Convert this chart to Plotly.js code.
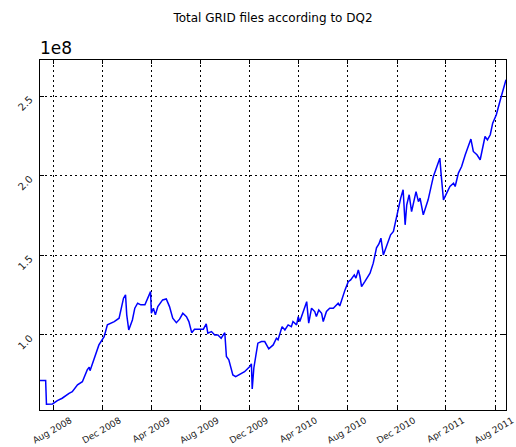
<!DOCTYPE html>
<html>
<head>
<meta charset="utf-8">
<script src="https://cdn.plot.ly/plotly-3.0.1.min.js"></script>
<style>html,body{margin:0;padding:0;background:#fff;}#chart{width:516px;height:447px;}</style>
</head>
<body>
<div id="chart"></div>
<script>
// Dates of samples
const dates = [
"2008-06-29","2008-07-13","2008-07-15","2008-07-30","2008-08-11","2008-08-23","2008-09-09","2008-09-17","2008-09-30","2008-10-12",
"2008-10-24","2008-10-29","2008-10-31","2008-11-10","2008-11-22","2008-12-05","2008-12-13","2008-12-30","2009-01-11","2009-01-22",
"2009-01-27","2009-01-30","2009-02-04","2009-02-13","2009-02-19","2009-02-26","2009-03-06","2009-03-16","2009-03-23","2009-03-30",
"2009-04-01","2009-04-06","2009-04-11","2009-04-17","2009-04-29","2009-05-08","2009-05-16","2009-05-24","2009-06-02","2009-06-10",
"2009-06-18","2009-06-27","2009-07-03","2009-07-10","2009-07-17","2009-07-30","2009-08-08","2009-08-15","2009-08-19","2009-08-28",
"2009-09-05","2009-09-13","2009-09-21","2009-09-30","2009-10-04","2009-10-10","2009-10-20","2009-10-27","2009-11-06","2009-11-18",
"2009-12-01","2009-12-05","2009-12-07","2009-12-11","2009-12-21","2009-12-30","2010-01-07","2010-01-17","2010-01-28","2010-02-05",
"2010-02-09","2010-02-19","2010-02-26","2010-03-06","2010-03-14","2010-03-18","2010-03-27","2010-03-31","2010-04-04","2010-04-12",
"2010-04-21","2010-04-26","2010-05-03","2010-05-11","2010-05-15","2010-05-21","2010-05-28","2010-06-01","2010-06-09","2010-06-17",
"2010-06-26","2010-07-08","2010-07-12","2010-07-25","2010-08-02","2010-08-08","2010-08-17","2010-08-21","2010-08-27","2010-08-31",
"2010-09-04","2010-09-12","2010-09-25","2010-10-03","2010-10-11","2010-10-17","2010-10-22","2010-10-28","2010-11-05","2010-11-15",
"2010-11-22","2010-11-28","2010-12-04","2010-12-10","2010-12-16","2010-12-21","2010-12-25","2010-12-31","2011-01-06","2011-01-12",
"2011-01-17","2011-01-23","2011-01-27","2011-02-04","2011-02-16","2011-03-01","2011-03-09","2011-03-17","2011-03-20","2011-03-26",
"2011-04-03","2011-04-11","2011-04-20","2011-04-24","2011-05-02","2011-05-10","2011-05-19","2011-05-27","2011-06-02","2011-06-08",
"2011-06-17","2011-06-25","2011-07-01","2011-07-07","2011-07-13","2011-07-20","2011-07-26","2011-08-04","2011-08-14","2011-08-20",
"2011-08-28"
];
// Total files (x 1e8)
const filesE8 = [
0.713,0.713,0.564,0.566,0.587,0.602,0.633,0.643,0.686,0.706,
0.780,0.797,0.775,0.843,0.937,0.989,1.063,1.084,1.105,1.231,
1.252,1.126,1.031,1.094,1.168,1.199,1.189,1.189,1.231,1.272,
1.136,1.168,1.126,1.178,1.220,1.226,1.178,1.105,1.077,1.099,
1.136,1.115,1.084,1.014,1.036,1.036,1.036,1.069,1.011,1.021,
1.000,1.000,0.979,1.014,0.864,0.843,0.748,0.738,0.753,0.769,
0.802,0.818,0.660,0.792,0.948,0.958,0.958,0.912,0.937,0.979,
0.969,1.052,1.031,1.063,1.052,1.084,1.063,1.115,1.084,1.147,
1.209,1.074,1.168,1.147,1.115,1.157,1.136,1.084,1.147,1.168,
1.168,1.199,1.182,1.283,1.335,1.346,1.377,1.357,1.409,1.367,
1.304,1.335,1.388,1.451,1.547,1.572,1.608,1.503,1.555,1.629,
1.650,1.723,1.786,1.860,1.912,1.692,1.818,1.881,1.775,1.838,
1.901,1.838,1.860,1.755,1.849,1.996,2.048,2.111,2.017,1.849,
1.891,1.933,1.954,1.933,2.017,2.058,2.132,2.195,2.231,2.153,
2.132,2.101,2.174,2.247,2.226,2.258,2.331,2.384,2.478,2.530,
2.604
];
const files = filesE8.map(v => v * 1e8);

const xTickVals = ["2008-08-01","2008-12-01","2009-04-01","2009-08-01","2009-12-01","2010-04-01","2010-08-01","2010-12-01","2011-04-01","2011-08-01"];
const xTickText = ["Aug 2008","Dec 2008","Apr 2009","Aug 2009","Dec 2009","Apr 2010","Aug 2010","Dec 2010","Apr 2011","Aug 2011"];
const yTickVals = [1.0e8, 1.5e8, 2.0e8, 2.5e8];
const yTickText = ["1.0","1.5","2.0","2.5"];

const trace = {
  x: dates, y: files, type: 'scatter', mode: 'lines',
  line: {color: '#0000ff', width: 1.5}, hoverinfo: 'skip'
};

const axisCommon = {
  showline: true, linecolor: '#000', linewidth: 1, mirror: 'allticks',
  ticks: 'inside', ticklen: 4, tickcolor: '#000', tickwidth: 1,
  showgrid: true, gridcolor: '#000', gridwidth: 1, griddash: '2px,3px',
  zeroline: false, ticklabeloverflow: 'allow'
};

const layout = {
  width: 516, height: 447,
  margin: {l: 40, r: 10, t: 60, b: 37},
  paper_bgcolor: '#fff', plot_bgcolor: '#fff',
  showlegend: false,
  title: {text: 'Total GRID files according to DQ2', font: {family: 'DejaVu Sans', size: 12, color: '#000'},
          xref: 'paper', x: 0.5, xanchor: 'center', yref: 'container', y: 1 - 18/447, yanchor: 'middle'},
  xaxis: Object.assign({}, axisCommon, {
    type: 'date', range: ['2008-06-29', '2011-08-28'],
    tickmode: 'array', tickvals: xTickVals, ticktext: xTickText, tickangle: -30, ticklabelshift: 17,
    ticklabelstandoff: 1,
    tickfont: {family: 'DejaVu Sans', size: 9, color: '#222'}
  }),
  yaxis: Object.assign({}, axisCommon, {
    range: [0.528e8, 2.728e8],
    tickmode: 'array', tickvals: yTickVals, ticktext: yTickText, tickangle: -45,
    ticklabelstandoff: 7, ticklabelshift: 2,
    tickfont: {family: 'DejaVu Sans', size: 10, color: '#222'}
  }),
  annotations: [{
    text: '1e8', xref: 'paper', yref: 'paper', x: 0, y: 1, xanchor: 'left', yanchor: 'bottom',
    showarrow: false, font: {family: 'DejaVu Sans', size: 17, color: '#000'}, xshift: -2, yshift: 0
  }]
};

Plotly.newPlot('chart', [trace], layout, {staticPlot: true, displayModeBar: false});
</script>
</body>
</html>
